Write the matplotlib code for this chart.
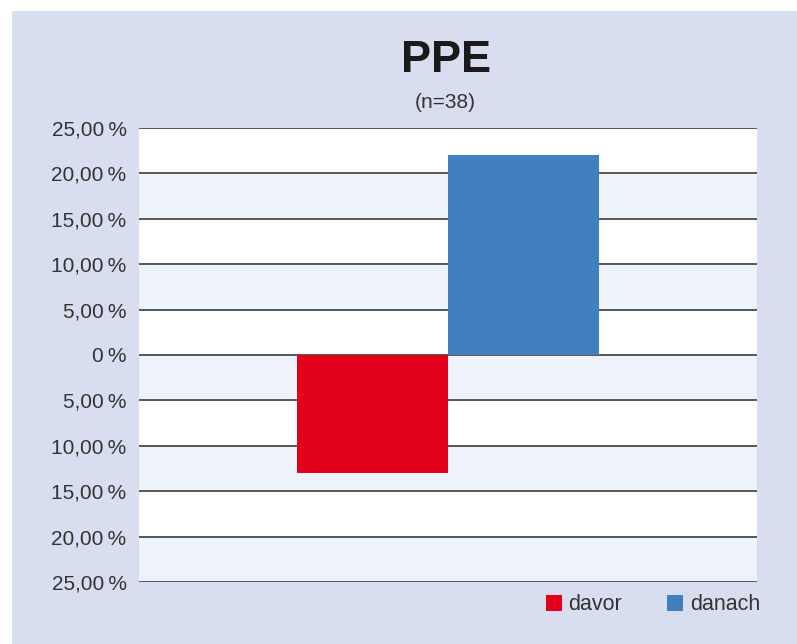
import numpy as np
import matplotlib.pyplot as plt
from matplotlib.patches import Rectangle, Patch

# data
series = ["davor", "danach"]
values = [-13.0, 22.0]
colors = ["#e2001a", "#4080bf"]
yticks = [25, 20, 15, 10, 5, 0, -5, -10, -15, -20, -25]

title = "PPE"
subtitle = "(n=38)"

plt.rcParams['font.family'] = ['Liberation Sans', 'DejaVu Sans']
text_col = "#333333"
bg = "#d8def0"
band = "#eef2fa"

fig = plt.figure(figsize=(7.97, 6.44), dpi=100)
fig.patch.set_facecolor("white")
fig.patches.append(Rectangle((12 / 797, 0), 1, 1 - 11 / 644, transform=fig.transFigure,
                             facecolor=bg, edgecolor="none", zorder=-10))

ax = fig.add_axes([139 / 797, 1 - 582 / 644, 618 / 797, 454 / 644])
ax.set_facecolor("white")

# alternating bands, white at the top
for i in range(len(yticks) - 1):
    if i % 2 == 1:
        ax.axhspan(yticks[i + 1], yticks[i], color=band, lw=0, zorder=0)
for t in yticks:
    ax.axhline(t, color="#4a4a4a", lw=1.3, zorder=1)

w = 0.49
offsets = [-w / 2, w / 2]
for name, v, c, o in zip(series, values, colors, offsets):
    ax.bar(o, v, width=w, color=c, zorder=2, label=name)

ax.set_xlim(-1, 1)
ax.set_ylim(-25, 25)
ax.set_xticks([])
ax.set_yticks(yticks)


def fmt(t):
    if t == 0:
        return "0\u2009%"
    return f"{abs(t):.2f}".replace(".", ",") + "\u2009%"


ax.set_yticklabels([fmt(t) for t in yticks], fontsize=15, color=text_col)
ax.tick_params(axis="y", length=0, pad=9)
for s in ax.spines.values():
    s.set_visible(False)

cx = (139 + 618 / 2) / 797
fig.text(cx - 0.002, 1 - 61 / 644, title, ha="center", va="center",
         fontsize=32.5, fontweight="bold", color="#1a1a1a")
fig.text(cx - 0.003, 1 - 103 / 644, subtitle, ha="center", va="center",
         fontsize=15, color=text_col)

handles = [Patch(facecolor=c, edgecolor="none") for c in colors]
fig.legend(handles, series, loc="center right", bbox_to_anchor=(760 / 797, 1 - 605 / 644),
           ncol=2, frameon=False, fontsize=15.5, handlelength=0.75, handleheight=0.75,
           handletextpad=0.3, columnspacing=2.1, borderpad=0, borderaxespad=0,
           labelcolor=text_col)

fig.savefig("out.png", dpi=100, facecolor=fig.get_facecolor())
